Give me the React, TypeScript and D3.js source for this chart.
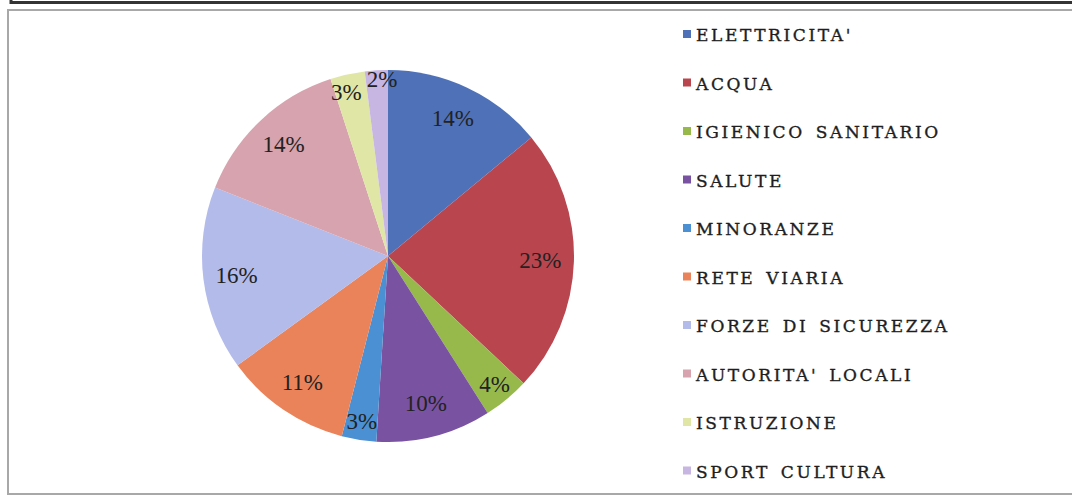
import React from "react";
import * as d3 from "d3";

const categories = [
  "ELETTRICITA'",
  "ACQUA",
  "IGIENICO SANITARIO",
  "SALUTE",
  "MINORANZE",
  "RETE VIARIA",
  "FORZE DI SICUREZZA",
  "AUTORITA' LOCALI",
  "ISTRUZIONE",
  "SPORT CULTURA",
];
const values = [14, 23, 4, 10, 3, 11, 16, 14, 3, 2];
const colors = [
  "#4f71b8",
  "#b9464f",
  "#97b94c",
  "#7a52a2",
  "#4b90d2",
  "#ea8359",
  "#b3bbea",
  "#d6a3ae",
  "#dfe6a6",
  "#c7b5e2",
];

const W = 1072;
const H = 497;
const cx = 388;
const cy = 256;
const R = 186;
const LABEL_FS = 23;

function labelFactor(v: number): number {
  if (v <= 2) return 0.95;
  if (v <= 4) return 0.9;
  return 0.82;
}

type Lab = { x: number; y: number; t: string; w: number };

function placeLabels(arcs: d3.PieArcDatum<number>[]): Lab[] {
  const labs: Lab[] = arcs.map((a) => {
    const m = (a.startAngle + a.endAngle) / 2;
    const rr = R * labelFactor(a.data);
    const t = a.data + "%";
    return { x: Math.sin(m) * rr, y: -Math.cos(m) * rr, t, w: t.length * LABEL_FS * 0.6 };
  });
  const h = LABEL_FS * 0.8;
  for (let iter = 0; iter < 40; iter++) {
    for (let i = 0; i < labs.length; i++) {
      for (let j = i + 1; j < labs.length; j++) {
        const a = labs[i];
        const b = labs[j];
        const ox = (a.w + b.w) / 2 + 8 - Math.abs(a.x - b.x);
        const oy = h - Math.abs(a.y - b.y);
        if (ox > 0 && oy > 0) {
          const s = a.x < b.x ? -1 : 1;
          a.x += (s * ox) / 2;
          b.x -= (s * ox) / 2;
        }
      }
    }
  }
  return labs;
}

export default function App() {
  const pie = d3
    .pie<number>()
    .sort(null)
    .value((d) => d)
    .startAngle(0)
    .endAngle(2 * Math.PI);
  const arcs = pie(values);
  const arc = d3.arc<d3.PieArcDatum<number>>().innerRadius(0).outerRadius(R);
  const labs = placeLabels(arcs);

  const legendY = d3
    .scalePoint<string>()
    .domain(categories)
    .range([34.5, 34.5 + 9 * 48.5]);

  return (
    <svg
      width={W}
      height={H}
      style={{ position: "absolute", left: 0, top: 0, display: "block", background: "#fff" }}
    >
      <rect x={0} y={0} width={W} height={H} fill="#fff" />
      <line x1={10} y1={2.5} x2={W} y2={2.5} stroke="#333" strokeWidth={3} />
      <line x1={11} y1={0} x2={11} y2={4} stroke="#333" strokeWidth={3} />
      <rect x={8} y={10} width={W + 10} height={484} fill="none" stroke="#a8a8a8" strokeWidth={2} />

      <g transform={`translate(${cx},${cy})`}>
        {arcs.map((a, i) => (
          <path key={i} d={arc(a) || ""} fill={colors[i]} />
        ))}
        {labs.map((l, i) => (
          <text
            key={"l" + i}
            x={l.x}
            y={l.y}
            textAnchor="middle"
            dominantBaseline="central"
            fontFamily="'Liberation Serif', serif"
            fontSize={LABEL_FS}
            fill="#222"
          >
            {l.t}
          </text>
        ))}
      </g>

      {categories.map((c, i) => {
        const y = legendY(c) as number;
        return (
          <g key={"lg" + i}>
            <rect x={683} y={y - 4.5} width={8} height={8} fill={colors[i]} />
            <text
              x={696}
              y={y + 6.5}
              fontFamily="'DejaVu Serif', serif"
              fontSize={17}
              letterSpacing={2.6}
              wordSpacing={3}
              fill="#1e1e1e"
              stroke="#1e1e1e"
              strokeWidth={0.35}
            >
              {c}
            </text>
          </g>
        );
      })}
    </svg>
  );
}
